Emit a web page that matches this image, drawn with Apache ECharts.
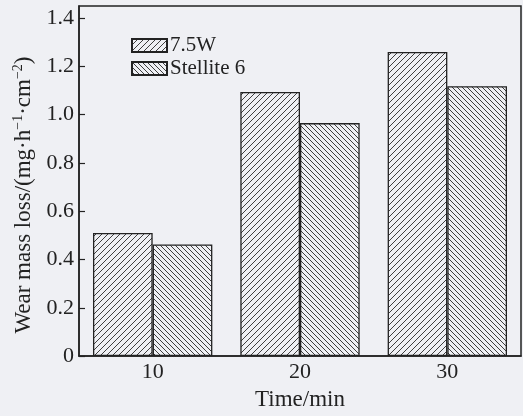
<!DOCTYPE html>
<html>
<head>
<meta charset="utf-8">
<script src="https://cdn.jsdelivr.net/npm/echarts@6/dist/echarts.min.js"></script>
<style>
html,body{margin:0;padding:0;background:#eff0f4;}
#chart{width:523px;height:416px;}
</style>
</head>
<body>
<div id="chart"></div>
<script>
var categories = ['10', '20', '30'];
var seriesNames = ['7.5W', 'Stellite 6'];
var values75W = [0.51, 1.094, 1.26];
var valuesStellite = [0.462, 0.965, 1.118];
var yTicks = [0, 0.2, 0.4, 0.6, 0.8, 1.0, 1.2, 1.4];

function hatch(size, dir, lw) {
  var c = document.createElement('canvas');
  c.width = size; c.height = size;
  var g = c.getContext('2d');
  g.fillStyle = '#eff0f4';
  g.fillRect(0, 0, size, size);
  g.strokeStyle = '#2a2a2a';
  g.lineWidth = lw;
  g.beginPath();
  if (dir > 0) {
    for (var k = -1; k <= 1; k++) {
      g.moveTo(k * size, size); g.lineTo(k * size + size, 0);
    }
  } else {
    for (var k = -1; k <= 1; k++) {
      g.moveTo(k * size, 0); g.lineTo(k * size + size, size);
    }
  }
  g.stroke();
  return c;
}

var font = 'Liberation Serif, Times New Roman, serif';
var chart = echarts.init(document.getElementById('chart'));
chart.setOption({
  backgroundColor: '#eff0f4',
  animation: false,
  grid: {left: 79, right: 2, top: 6, bottom: 53, show: true, borderColor: '#222', borderWidth: 1.5, backgroundColor: 'transparent'},
  legend: {
    orient: 'vertical', left: 126, top: 30, itemWidth: 35, itemHeight: 13, itemGap: 2,
    icon: 'rect',
    textStyle: {fontFamily: font, fontSize: 21, color: '#222', padding: [0, 0, 0, -2]},
    data: seriesNames
  },
  xAxis: {
    type: 'category', data: categories,
    axisLine: {lineStyle: {color: '#222', width: 1.5}},
    axisTick: {show: false},
    axisLabel: {fontFamily: font, fontSize: 22, color: '#222', margin: 5},
    name: 'Time/min', nameLocation: 'middle', nameGap: 28,
    nameTextStyle: {fontFamily: font, fontSize: 23, color: '#222'}
  },
  yAxis: {
    type: 'value', min: 0, max: 1.45, interval: 0.2,
    splitLine: {show: false},
    axisLine: {show: true, lineStyle: {color: '#222', width: 1.5}},
    axisTick: {show: true, inside: true, length: 6, lineStyle: {color: '#222', width: 1.2}},
    axisLabel: {
      fontFamily: font, fontSize: 22, color: '#222', margin: 5, showMaxLabel: false,
      formatter: function (v) {
        for (var i = 0; i < yTicks.length; i++) {
          if (Math.abs(v - yTicks[i]) < 1e-6) return v === 0 ? '0' : yTicks[i].toFixed(1);
        }
        return '';
      }
    },
    name: 'Wear mass loss/(mg·h{s|−1}·cm{s|−2})', nameLocation: 'middle', nameGap: 42, nameRotate: 90,
    nameTextStyle: {fontFamily: font, fontSize: 23, color: '#222', padding: [0, 28, 0, 0],
      rich: {s: {fontFamily: font, fontSize: 14, color: '#222', verticalAlign: 'top', padding: [0, 0, 12, 0]}}}
  },
  series: [
    {name: seriesNames[0], type: 'bar', data: values75W, barGap: '0%', barCategoryGap: '19%',
     itemStyle: {color: {image: hatch(6, 1, 0.9), repeat: 'repeat'}, borderColor: '#222', borderWidth: 1.3}},
    {name: seriesNames[1], type: 'bar', data: valuesStellite, barGap: '0%', barCategoryGap: '19%',
     itemStyle: {color: {image: hatch(5, -1, 0.9), repeat: 'repeat'}, borderColor: '#222', borderWidth: 1.3}}
  ]
});
</script>
</body>
</html>
